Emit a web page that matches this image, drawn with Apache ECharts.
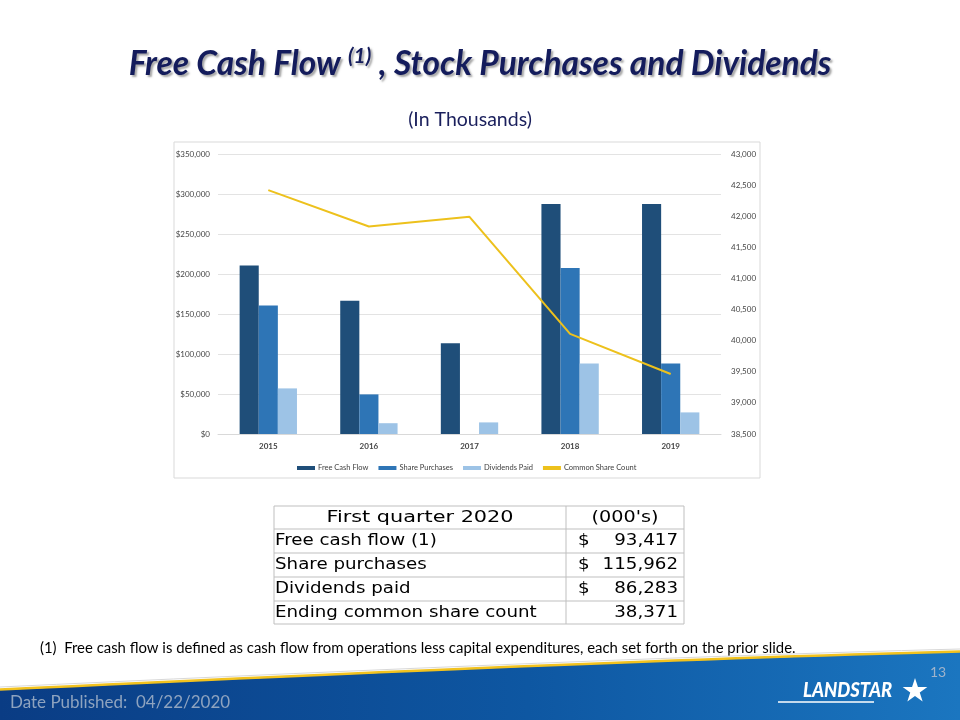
<!DOCTYPE html>
<html>
<head>
<meta charset="utf-8">
<script src="https://cdn.jsdelivr.net/npm/echarts@6/dist/echarts.min.js"></script>
<style>
html,body{margin:0;padding:0;background:#fff;}
#c{width:960px;height:720px;}
</style>
</head>
<body>
<div id="c"></div>
<script>
// ---- data ----
const years = ['2015', '2016', '2017', '2018', '2019'];
const freeCashFlow = [210500, 166500, 113500, 287500, 287500];
const sharePurchases = [160500, 49500, 0, 207500, 88000];
const dividendsPaid = [57000, 13500, 14500, 88000, 27000];
const commonShareCount = [42420, 41835, 41990, 40110, 39465];
const seriesNames = ['Free Cash Flow', 'Share Purchases', 'Dividends Paid', 'Common Share Count'];

const tableHeader = ['First quarter 2020', "(000's)"];
const tableLabels = ['Free cash flow (1)', 'Share purchases', 'Dividends paid', 'Ending common share count'];
const tableDollar = ['$', '$', '$', ''];
const tableValues = ['93,417', '115,962', '86,283', '38,371'];

const titleMain = 'Free Cash Flow ';
const titleSup = '(1)';
const titleRest = ' , Stock Purchases and Dividends';
const subTitle = '(In Thousands)';
const footnote = '(1)  Free cash flow is defined as cash flow from operations less capital expenditures, each set forth on the prior slide.';
const datePublished = 'Date Published:  04/22/2020';
const pageNumber = '13';
const logoText = 'LANDSTAR';

// ---- chart ----
const chart = echarts.init(document.getElementById('c'), null, {renderer: 'canvas'});
const axisFont = {fontFamily: 'Lato', fontSize: 8, color: '#454545'};

function fmtComma(v) { return v.toLocaleString('en-US'); }

// table graphics
const tX = 274, tW = 410, tColX = 566;
const rowY = [506, 529, 553, 577, 601, 624];
const tableEls = [];
tableEls.push({type: 'rect', shape: {x: tX, y: rowY[0], width: tW, height: rowY[5] - rowY[0]},
  style: {fill: '#fff', stroke: '#BFBFBF', lineWidth: 1}});
for (let i = 1; i < 5; i++) {
  tableEls.push({type: 'line', shape: {x1: tX, y1: rowY[i], x2: tX + tW, y2: rowY[i]},
    style: {stroke: '#BFBFBF', lineWidth: 1}});
}
tableEls.push({type: 'line', shape: {x1: tColX, y1: rowY[0], x2: tColX, y2: rowY[5]},
  style: {stroke: '#BFBFBF', lineWidth: 1}});
const tFont = {fontFamily: 'DejaVu Sans', fontSize: 16, fill: '#000'};
function tText(x, y, text, align, sx) {
  return {type: 'text', x: x, y: y, scaleX: sx,
    style: Object.assign({text: text, align: align, verticalAlign: 'middle'}, tFont)};
}
tableEls.push(tText((tX + tColX) / 2, (rowY[0] + rowY[1]) / 2, tableHeader[0], 'center', 1.3));
tableEls.push(tText((tColX + tX + tW) / 2, (rowY[0] + rowY[1]) / 2, tableHeader[1], 'center', 1.2));
for (let i = 0; i < tableLabels.length; i++) {
  const cy = (rowY[i + 1] + rowY[i + 2]) / 2;
  tableEls.push(tText(tX + 1, cy, tableLabels[i], 'left', 1.14));
  tableEls.push(tText(578, cy, tableDollar[i], 'left', 1.14));
  tableEls.push(tText(678, cy, tableValues[i], 'right', 1.14));
}

// star points
function starPoints(cx, cy, R, r) {
  const pts = [];
  for (let i = 0; i < 10; i++) {
    const a = -Math.PI / 2 + i * Math.PI / 5;
    const rad = i % 2 === 0 ? R : r;
    pts.push([cx + rad * Math.cos(a), cy + rad * Math.sin(a)]);
  }
  return pts;
}
// footer band outline (decoration)
function bez(p0, p1, p2, p3, n) {
  const pts = [];
  for (let i = 0; i <= n; i++) {
    const t = i / n, u = 1 - t;
    pts.push([
      u*u*u*p0[0] + 3*u*u*t*p1[0] + 3*u*t*t*p2[0] + t*t*t*p3[0],
      u*u*u*p0[1] + 3*u*u*t*p1[1] + 3*u*t*t*p2[1] + t*t*t*p3[1]
    ]);
  }
  return pts;
}
const bandPts = bez([0, 690], [300, 676], [650, 660], [960, 652], 40).concat([[960, 720], [0, 720]]);

const option = {
  animation: false,
  backgroundColor: '#ffffff',
  color: ['#1F4E79', '#2E75B6', '#9DC3E6', '#EDC11C'],
  title: [{
    left: 'center', top: 41,
    text: '{m|' + titleMain + '}{s|' + titleSup + '}{m|' + titleRest + '}',
    textStyle: {
      rich: {
        m: {fontFamily: 'Lato', fontWeight: 'bold', fontStyle: 'italic', fontSize: 33.5, color: '#141C5C',
            textShadowColor: 'rgba(0,0,0,0.35)', textShadowBlur: 2, textShadowOffsetX: 2, textShadowOffsetY: 2},
        s: {fontFamily: 'Lato', fontWeight: 'bold', fontStyle: 'italic', fontSize: 21, color: '#141C5C',
            verticalAlign: 'top', padding: [0, 0, 15, 0],
            textShadowColor: 'rgba(0,0,0,0.35)', textShadowBlur: 2, textShadowOffsetX: 2, textShadowOffsetY: 2}
      }
    }
  }, {
    left: 465, top: 105, textAlign: 'center',
    text: subTitle,
    textStyle: {fontFamily: 'Lato', fontWeight: 'normal', fontSize: 19.5, color: '#1A1F5C'}
  }],
  legend: {
    top: 459, left: 292,
    itemWidth: 18, itemHeight: 4, itemGap: 10,
    icon: 'rect',
    textStyle: {fontFamily: 'Lato', fontSize: 7.5, color: '#404040', padding: [0, 0, 0, -2]},
    data: seriesNames
  },
  grid: {left: 218, right: 239, top: 154, bottom: 286, containLabel: false},
  xAxis: {
    type: 'category', data: years,
    axisLine: {lineStyle: {color: '#D9D9D9'}},
    axisTick: {show: false},
    axisLabel: Object.assign({margin: 8, fontWeight: 'bold'}, axisFont)
  },
  yAxis: [{
    type: 'value', min: 0, max: 350000, interval: 50000,
    axisLine: {show: false}, axisTick: {show: false},
    splitLine: {lineStyle: {color: '#E3E3E3'}},
    axisLabel: Object.assign({margin: 8, formatter: v => '$' + fmtComma(v)}, axisFont)
  }, {
    type: 'value', min: 38500, max: 43000, interval: 500,
    axisLine: {show: false}, axisTick: {show: false},
    splitLine: {show: false},
    axisLabel: Object.assign({margin: 10, formatter: v => fmtComma(v)}, axisFont)
  }],
  series: [{
    name: seriesNames[0], type: 'bar', data: freeCashFlow,
    barGap: '0%', barCategoryGap: '43%',
    itemStyle: {color: '#1F4E79'}
  }, {
    name: seriesNames[1], type: 'bar', data: sharePurchases,
    itemStyle: {color: '#2E75B6'}
  }, {
    name: seriesNames[2], type: 'bar', data: dividendsPaid,
    itemStyle: {color: '#9DC3E6'}
  }, {
    name: seriesNames[3], type: 'line', yAxisIndex: 1, data: commonShareCount,
    symbol: 'none', lineStyle: {color: '#EDC11C', width: 2}, itemStyle: {color: '#EDC11C'}
  }],
  graphic: [
    {type: 'rect', z: -1, shape: {x: 174, y: 142, width: 586, height: 336},
     style: {fill: 'none', stroke: '#D9D9D9', lineWidth: 1}},
    {type: 'text', x: 40, y: 648, style: {text: footnote, fontFamily: 'Lato', fontSize: 14.9, fill: '#000',
      verticalAlign: 'middle'}},
    {type: 'polygon', shape: {points: bandPts},
     style: {fill: {type: 'linear', x: 0, y: 0, x2: 1, y2: 0,
       colorStops: [{offset: 0, color: '#0A3C84'}, {offset: 0.55, color: '#0E57A2'}, {offset: 1, color: '#1B76C0'}]}}},
    {type: 'bezierCurve', shape: {x1: 0, y1: 687, cpx1: 300, cpy1: 673, cpx2: 650, cpy2: 657, x2: 960, y2: 649},
     style: {fill: 'none', stroke: '#D8D8D8', lineWidth: 1}},
    {type: 'bezierCurve', shape: {x1: 0, y1: 689.5, cpx1: 300, cpy1: 675.5, cpx2: 650, cpy2: 659.5, x2: 960, y2: 651.5},
     style: {fill: 'none', stroke: '#F2C21E', lineWidth: 2.5}},
    {type: 'text', x: 10, y: 703, style: {text: datePublished, fontFamily: 'Lato', fontSize: 17,
      fill: '#8EA3BF', verticalAlign: 'middle'}},
    {type: 'text', x: 930, y: 672, style: {text: pageNumber, fontFamily: 'Lato', fontSize: 14,
      fill: '#9FB3CB', verticalAlign: 'middle'}},
    {type: 'text', x: 803, y: 691, scaleX: 0.92, style: {text: logoText, fontFamily: 'Lato', fontWeight: 900, fontStyle: 'italic',
      fontSize: 20, fill: '#ffffff', verticalAlign: 'middle'}},
    {type: 'line', shape: {x1: 778, y1: 702, x2: 874, y2: 702}, style: {stroke: '#ffffff', lineWidth: 1.5}},
    {type: 'polygon', shape: {points: starPoints(915, 691, 13, 5)}, style: {fill: '#ffffff'}},
    {type: 'group', children: tableEls}
  ]
};
chart.setOption(option);
</script>
</body>
</html>
